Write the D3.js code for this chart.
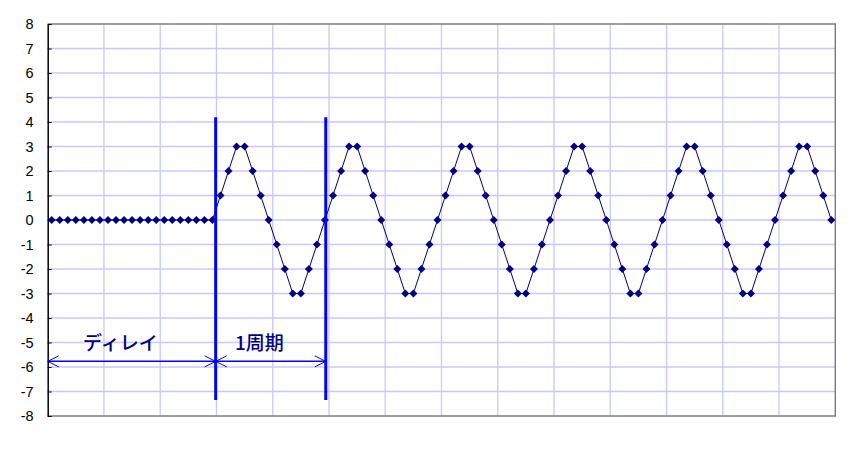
<!DOCTYPE html>
<html><head><meta charset="utf-8">
<script src="https://cdn.jsdelivr.net/npm/d3@7"></script>
<style>html,body{margin:0;padding:0;background:#fff;}svg{display:block;}</style>
</head><body>
<svg id="chart" width="852" height="450"></svg>
<script>
// Data
const delayValues = [0,0,0,0,0,0,0,0,0,0,0,0,0,0,0,0,0,0,0,0,0];
const cycleValues = [1,2,3,3,2,1,0,-1,-2,-3,-3,-2,-1,0];
const tailValues = [1,2,3,3,2,1,0];
const values = delayValues
  .concat(cycleValues, cycleValues, cycleValues, cycleValues, cycleValues, tailValues);
const yTicks = [8,7,6,5,4,3,2,1,0,-1,-2,-3,-4,-5,-6,-7,-8];
const markerPositions = [20.4, 34.1]; // category index of vertical markers
const labels = [
  {text: "ディレイ", from: -0.5, to: 20.4, textAt: 3.9},
  {text: "1周期", from: 20.4, to: 34.1, textAt: 22.8}
];

(function () {
const svg = d3.select("#chart");
const pLeft = 47.7, pRight = 835.3, pTop = 24, pBottom = 416;
const n = values.length;
const x = d3.scaleLinear().domain([-0.5, n - 0.5]).range([pLeft, pRight]);
const y = d3.scaleLinear().domain([-8, 8]).range([pBottom, pTop]);

// gridlines
const g = svg.append("g");
g.selectAll(".hg").data(yTicks.filter(v => v > -8 && v < 8)).enter().append("line")
  .attr("x1", pLeft).attr("x2", pRight)
  .attr("y1", d => y(d)).attr("y2", d => y(d))
  .attr("stroke", "#c8c8ff").attr("stroke-width", 1.3);
const vgrid = d3.range(1, n / 7).map(k => -0.5 + 7 * k);
g.selectAll(".vg").data(vgrid).enter().append("line")
  .attr("x1", d => x(d)).attr("x2", d => x(d))
  .attr("y1", pTop).attr("y2", pBottom)
  .attr("stroke", "#c8c8ff").attr("stroke-width", 1.3);

// plot border
svg.append("path")
  .attr("d", `M${pLeft},${pTop}H${pRight}V${pBottom}H${pLeft}`)
  .attr("fill", "none").attr("stroke", "#808080").attr("stroke-width", 1.5);

// y axis
const yAxis = d3.axisLeft(y).tickValues(yTicks).tickFormat(d => String(d))
  .tickSizeInner(-4).tickSizeOuter(0).tickPadding(14);
const ya = svg.append("g").attr("transform", `translate(${pLeft},0)`).call(yAxis);
ya.select(".domain").attr("stroke", "#000").attr("stroke-width", 1.5);
ya.selectAll(".tick line").attr("stroke", "#000");
ya.selectAll("text").attr("font-family", "Liberation Sans, Arial, sans-serif")
  .attr("font-size", 14.5).attr("fill", "#000");

// series line
const line = d3.line().x((d, i) => x(i)).y(d => y(d));
svg.append("path").datum(values).attr("d", line)
  .attr("fill", "none").attr("stroke", "#000080").attr("stroke-width", 1);

// markers (diamonds)
svg.selectAll(".mk").data(values).enter().append("path")
  .attr("d", "M0,-4L4,0L0,4L-4,0Z")
  .attr("transform", (d, i) => `translate(${x(i)},${y(d)})`)
  .attr("fill", "#000080");

// vertical blue markers
svg.selectAll(".vm").data(markerPositions).enter().append("line")
  .attr("x1", d => x(d)).attr("x2", d => x(d))
  .attr("y1", y(4.19)).attr("y2", y(-7.35))
  .attr("stroke", "#0000ff").attr("stroke-width", 3);

// dimension arrows
const ay = y(-5.77);
labels.forEach(l => {
  const x1 = x(l.from), x2 = x(l.to);
  svg.append("line").attr("x1", x1).attr("x2", x2).attr("y1", ay).attr("y2", ay)
    .attr("stroke", "#0000ff").attr("stroke-width", 1.5);
  svg.append("path")
    .attr("d", `M${x1 + 11},${ay - 5.5}L${x1},${ay}L${x1 + 11},${ay + 5.5}M${x2 - 11},${ay - 5.5}L${x2},${ay}L${x2 - 11},${ay + 5.5}`)
    .attr("fill", "none").attr("stroke", "#0000ff").attr("stroke-width", 1);
  svg.append("text").attr("x", x(l.textAt)).attr("y", y(-5.3))
    .attr("text-anchor", "start")
    .attr("font-family", "Noto Sans CJK JP, sans-serif")
    .attr("font-size", 19).attr("font-weight", 500).attr("fill", "#000080")
    .text(l.text);
});
})();
</script>
</body></html>
